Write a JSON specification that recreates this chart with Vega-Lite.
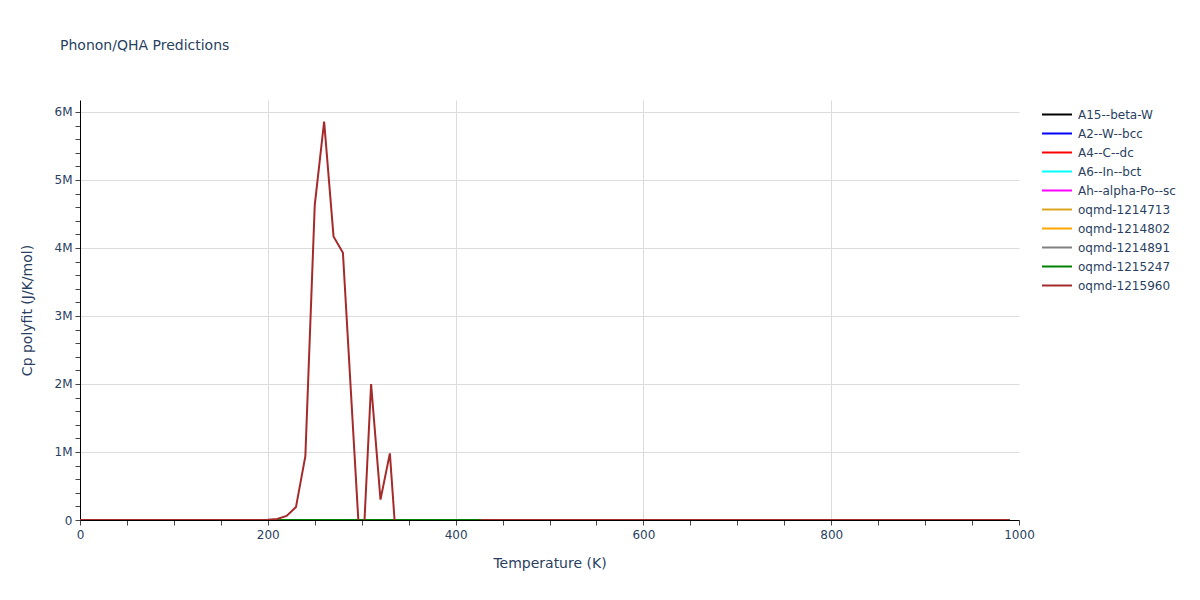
{
  "$schema": "https://vega.github.io/schema/vega-lite/v6.json",
  "autosize": "none",
  "width": 939,
  "height": 420,
  "padding": {"left": 80, "top": 100, "right": 181, "bottom": 80},
  "background": "white",
  "title": {
    "text": "Phonon/QHA Predictions",
    "anchor": "start",
    "frame": "group",
    "dx": -20,
    "offset": 47,
    "font": "DejaVu Sans",
    "fontSize": 14,
    "fontWeight": "normal",
    "color": "#2a3f5f"
  },
  "config": {
    "view": {"stroke": null},
    "font": "DejaVu Sans"
  },
  "data": {
    "values": [
      {"s": "A15--beta-W", "T": 0, "cp": 0}, {"s": "A15--beta-W", "T": 100, "cp": 0}, {"s": "A15--beta-W", "T": 200, "cp": 0}, {"s": "A15--beta-W", "T": 300, "cp": 0}, {"s": "A15--beta-W", "T": 400, "cp": 0}, {"s": "A15--beta-W", "T": 500, "cp": 0}, {"s": "A15--beta-W", "T": 600, "cp": 0}, {"s": "A15--beta-W", "T": 700, "cp": 0}, {"s": "A15--beta-W", "T": 800, "cp": 0}, {"s": "A15--beta-W", "T": 900, "cp": 0}, {"s": "A15--beta-W", "T": 990, "cp": 0},
      {"s": "A2--W--bcc", "T": 0, "cp": 0}, {"s": "A2--W--bcc", "T": 100, "cp": 0}, {"s": "A2--W--bcc", "T": 200, "cp": 0}, {"s": "A2--W--bcc", "T": 300, "cp": 0}, {"s": "A2--W--bcc", "T": 400, "cp": 0}, {"s": "A2--W--bcc", "T": 500, "cp": 0}, {"s": "A2--W--bcc", "T": 600, "cp": 0}, {"s": "A2--W--bcc", "T": 700, "cp": 0}, {"s": "A2--W--bcc", "T": 800, "cp": 0}, {"s": "A2--W--bcc", "T": 900, "cp": 0}, {"s": "A2--W--bcc", "T": 990, "cp": 0},
      {"s": "A4--C--dc", "T": 0, "cp": 0}, {"s": "A4--C--dc", "T": 100, "cp": 0}, {"s": "A4--C--dc", "T": 200, "cp": 0}, {"s": "A4--C--dc", "T": 300, "cp": 0}, {"s": "A4--C--dc", "T": 400, "cp": 0}, {"s": "A4--C--dc", "T": 500, "cp": 0}, {"s": "A4--C--dc", "T": 600, "cp": 0}, {"s": "A4--C--dc", "T": 700, "cp": 0}, {"s": "A4--C--dc", "T": 800, "cp": 0}, {"s": "A4--C--dc", "T": 900, "cp": 0}, {"s": "A4--C--dc", "T": 990, "cp": 0},
      {"s": "A6--In--bct", "T": 0, "cp": 0}, {"s": "A6--In--bct", "T": 100, "cp": 0}, {"s": "A6--In--bct", "T": 200, "cp": 0}, {"s": "A6--In--bct", "T": 300, "cp": 0}, {"s": "A6--In--bct", "T": 400, "cp": 0}, {"s": "A6--In--bct", "T": 500, "cp": 0}, {"s": "A6--In--bct", "T": 600, "cp": 0}, {"s": "A6--In--bct", "T": 700, "cp": 0}, {"s": "A6--In--bct", "T": 800, "cp": 0}, {"s": "A6--In--bct", "T": 900, "cp": 0}, {"s": "A6--In--bct", "T": 990, "cp": 0},
      {"s": "Ah--alpha-Po--sc", "T": 0, "cp": 0}, {"s": "Ah--alpha-Po--sc", "T": 100, "cp": 0}, {"s": "Ah--alpha-Po--sc", "T": 200, "cp": 0}, {"s": "Ah--alpha-Po--sc", "T": 300, "cp": 0}, {"s": "Ah--alpha-Po--sc", "T": 400, "cp": 0}, {"s": "Ah--alpha-Po--sc", "T": 500, "cp": 0}, {"s": "Ah--alpha-Po--sc", "T": 600, "cp": 0}, {"s": "Ah--alpha-Po--sc", "T": 700, "cp": 0}, {"s": "Ah--alpha-Po--sc", "T": 800, "cp": 0}, {"s": "Ah--alpha-Po--sc", "T": 900, "cp": 0}, {"s": "Ah--alpha-Po--sc", "T": 990, "cp": 0},
      {"s": "oqmd-1214713", "T": 0, "cp": 0}, {"s": "oqmd-1214713", "T": 100, "cp": 0}, {"s": "oqmd-1214713", "T": 200, "cp": 0}, {"s": "oqmd-1214713", "T": 300, "cp": 0}, {"s": "oqmd-1214713", "T": 400, "cp": 0}, {"s": "oqmd-1214713", "T": 500, "cp": 0}, {"s": "oqmd-1214713", "T": 600, "cp": 0}, {"s": "oqmd-1214713", "T": 700, "cp": 0}, {"s": "oqmd-1214713", "T": 800, "cp": 0}, {"s": "oqmd-1214713", "T": 900, "cp": 0}, {"s": "oqmd-1214713", "T": 990, "cp": 0},
      {"s": "oqmd-1214802", "T": 0, "cp": 0}, {"s": "oqmd-1214802", "T": 100, "cp": 0}, {"s": "oqmd-1214802", "T": 200, "cp": 0}, {"s": "oqmd-1214802", "T": 300, "cp": 0}, {"s": "oqmd-1214802", "T": 400, "cp": 0}, {"s": "oqmd-1214802", "T": 500, "cp": 0}, {"s": "oqmd-1214802", "T": 600, "cp": 0}, {"s": "oqmd-1214802", "T": 700, "cp": 0}, {"s": "oqmd-1214802", "T": 800, "cp": 0}, {"s": "oqmd-1214802", "T": 900, "cp": 0}, {"s": "oqmd-1214802", "T": 990, "cp": 0},
      {"s": "oqmd-1214891", "T": 0, "cp": 0}, {"s": "oqmd-1214891", "T": 100, "cp": 0}, {"s": "oqmd-1214891", "T": 200, "cp": 0}, {"s": "oqmd-1214891", "T": 300, "cp": 0}, {"s": "oqmd-1214891", "T": 400, "cp": 0}, {"s": "oqmd-1214891", "T": 500, "cp": 0}, {"s": "oqmd-1214891", "T": 600, "cp": 0}, {"s": "oqmd-1214891", "T": 700, "cp": 0}, {"s": "oqmd-1214891", "T": 800, "cp": 0}, {"s": "oqmd-1214891", "T": 900, "cp": 0}, {"s": "oqmd-1214891", "T": 990, "cp": 0},
      {"s": "oqmd-1215247", "T": 0, "cp": 0}, {"s": "oqmd-1215247", "T": 100, "cp": 0}, {"s": "oqmd-1215247", "T": 200, "cp": 0}, {"s": "oqmd-1215247", "T": 300, "cp": 0}, {"s": "oqmd-1215247", "T": 400, "cp": 0}, {"s": "oqmd-1215247", "T": 500, "cp": 0}, {"s": "oqmd-1215247", "T": 600, "cp": 0}, {"s": "oqmd-1215247", "T": 700, "cp": 0}, {"s": "oqmd-1215247", "T": 800, "cp": 0}, {"s": "oqmd-1215247", "T": 900, "cp": 0}, {"s": "oqmd-1215247", "T": 990, "cp": 0},
      {"s": "oqmd-1215960", "T": 0, "cp": 0}, {"s": "oqmd-1215960", "T": 10, "cp": 0}, {"s": "oqmd-1215960", "T": 20, "cp": 0}, {"s": "oqmd-1215960", "T": 30, "cp": 0}, {"s": "oqmd-1215960", "T": 40, "cp": 0}, {"s": "oqmd-1215960", "T": 50, "cp": 0}, {"s": "oqmd-1215960", "T": 60, "cp": 0}, {"s": "oqmd-1215960", "T": 70, "cp": 0}, {"s": "oqmd-1215960", "T": 80, "cp": 0}, {"s": "oqmd-1215960", "T": 90, "cp": 0},
      {"s": "oqmd-1215960", "T": 100, "cp": 0}, {"s": "oqmd-1215960", "T": 110, "cp": 0}, {"s": "oqmd-1215960", "T": 120, "cp": 0}, {"s": "oqmd-1215960", "T": 130, "cp": 0}, {"s": "oqmd-1215960", "T": 140, "cp": 0}, {"s": "oqmd-1215960", "T": 150, "cp": 0}, {"s": "oqmd-1215960", "T": 160, "cp": 0}, {"s": "oqmd-1215960", "T": 170, "cp": 0}, {"s": "oqmd-1215960", "T": 180, "cp": 0}, {"s": "oqmd-1215960", "T": 190, "cp": 0},
      {"s": "oqmd-1215960", "T": 200, "cp": 2000}, {"s": "oqmd-1215960", "T": 210, "cp": 15000}, {"s": "oqmd-1215960", "T": 220, "cp": 60000}, {"s": "oqmd-1215960", "T": 230, "cp": 190000}, {"s": "oqmd-1215960", "T": 240, "cp": 940000}, {"s": "oqmd-1215960", "T": 250, "cp": 4630000}, {"s": "oqmd-1215960", "T": 260, "cp": 5860000}, {"s": "oqmd-1215960", "T": 270, "cp": 4170000}, {"s": "oqmd-1215960", "T": 280, "cp": 3930000}, {"s": "oqmd-1215960", "T": 290, "cp": 1530000},
      {"s": "oqmd-1215960", "T": 300, "cp": -860000}, {"s": "oqmd-1215960", "T": 310, "cp": 2000000}, {"s": "oqmd-1215960", "T": 320, "cp": 300000}, {"s": "oqmd-1215960", "T": 330, "cp": 980000}, {"s": "oqmd-1215960", "T": 340, "cp": -980000}, {"s": "oqmd-1215960", "T": 350, "cp": -1500000}, {"s": "oqmd-1215960", "T": 360, "cp": -1500000}, {"s": "oqmd-1215960", "T": 370, "cp": -1400000}, {"s": "oqmd-1215960", "T": 380, "cp": -1200000}, {"s": "oqmd-1215960", "T": 390, "cp": -900000},
      {"s": "oqmd-1215960", "T": 400, "cp": -600000}, {"s": "oqmd-1215960", "T": 410, "cp": -300000}, {"s": "oqmd-1215960", "T": 420, "cp": -20000}, {"s": "oqmd-1215960", "T": 430, "cp": 0}, {"s": "oqmd-1215960", "T": 440, "cp": 0}, {"s": "oqmd-1215960", "T": 450, "cp": 0}, {"s": "oqmd-1215960", "T": 460, "cp": 0}, {"s": "oqmd-1215960", "T": 470, "cp": 0}, {"s": "oqmd-1215960", "T": 480, "cp": 0}, {"s": "oqmd-1215960", "T": 490, "cp": 0},
      {"s": "oqmd-1215960", "T": 500, "cp": 0}, {"s": "oqmd-1215960", "T": 550, "cp": 0}, {"s": "oqmd-1215960", "T": 600, "cp": 0}, {"s": "oqmd-1215960", "T": 650, "cp": 0}, {"s": "oqmd-1215960", "T": 700, "cp": 0}, {"s": "oqmd-1215960", "T": 750, "cp": 0}, {"s": "oqmd-1215960", "T": 800, "cp": 0}, {"s": "oqmd-1215960", "T": 850, "cp": 0}, {"s": "oqmd-1215960", "T": 900, "cp": 0}, {"s": "oqmd-1215960", "T": 950, "cp": 0}, {"s": "oqmd-1215960", "T": 990, "cp": 0}
    ]
  },
  "mark": {"type": "line", "clip": true, "strokeWidth": 2, "interpolate": "linear"},
  "encoding": {
    "x": {
      "field": "T",
      "type": "quantitative",
      "scale": {"domain": [0, 1000], "nice": false, "zero": false},
      "axis": {
        "title": "Temperature (K)",
        "values": [0, 50, 100, 150, 200, 250, 300, 350, 400, 450, 500, 550, 600, 650, 700, 750, 800, 850, 900, 950, 1000],
        "labelExpr": "datum.value % 200 === 0 ? format(datum.value, 'd') : ''",
        "gridOpacity": {"condition": {"test": "datum.value % 200 === 0 && datum.value > 0 && datum.value < 1000", "value": 1}, "value": 0},
        "gridColor": "#dcdcdc",
        "domainColor": "#000000",
        "tickColor": "#444444",
        "tickSize": 5,
        "labelPadding": 4,
        "labelFontSize": 12,
        "labelColor": "#2a3f5f",
        "labelFont": "DejaVu Sans",
        "labelFlush": false,
        "labelOverlap": false,
        "titleFont": "DejaVu Sans",
        "titleFontSize": 14,
        "titleFontWeight": "normal",
        "titleColor": "#2a3f5f",
        "titlePadding": 16
      }
    },
    "y": {
      "field": "cp",
      "type": "quantitative",
      "scale": {"domain": [0, 6176000], "nice": false, "zero": false},
      "axis": {
        "title": "Cp polyfit (J/K/mol)",
        "values": [0, 200000, 400000, 600000, 800000, 1000000, 1200000, 1400000, 1600000, 1800000, 2000000, 2200000, 2400000, 2600000, 2800000, 3000000, 3200000, 3400000, 3600000, 3800000, 4000000, 4200000, 4400000, 4600000, 4800000, 5000000, 5200000, 5400000, 5600000, 5800000, 6000000],
        "labelExpr": "datum.value === 0 ? '0' : (datum.value % 1000000 === 0 ? format(datum.value / 1000000, 'd') + 'M' : '')",
        "gridOpacity": {"condition": {"test": "datum.value % 1000000 === 0 && datum.value > 0", "value": 1}, "value": 0},
        "gridColor": "#dcdcdc",
        "domainColor": "#000000",
        "tickColor": "#444444",
        "tickSize": 5,
        "labelPadding": 3,
        "labelFontSize": 12,
        "labelColor": "#2a3f5f",
        "labelFont": "DejaVu Sans",
        "labelOverlap": false,
        "titleFont": "DejaVu Sans",
        "titleFontSize": 14,
        "titleFontWeight": "normal",
        "titleColor": "#2a3f5f",
        "titlePadding": 20
      }
    },
    "color": {
      "field": "s",
      "type": "nominal",
      "scale": {
        "domain": ["A15--beta-W", "A2--W--bcc", "A4--C--dc", "A6--In--bct", "Ah--alpha-Po--sc", "oqmd-1214713", "oqmd-1214802", "oqmd-1214891", "oqmd-1215247", "oqmd-1215960"],
        "range": ["#000000", "#0000ff", "#ff0000", "#00ffff", "#ff00ff", "#daa520", "#ffa500", "#808080", "#008000", "#a52a2a"]
      },
      "legend": {
        "title": null,
        "orient": "none",
        "legendX": 961,
        "legendY": 5,
        "symbolType": "stroke",
        "symbolStrokeWidth": 2,
        "symbolSize": 900,
        "clipHeight": 19,
        "labelFont": "DejaVu Sans",
        "labelFontSize": 12,
        "labelColor": "#2a3f5f",
        "labelOffset": 5,
        "rowPadding": 0,
        "labelLimit": 300
      }
    },
    "order": {"field": "T", "type": "quantitative"}
  }
}
